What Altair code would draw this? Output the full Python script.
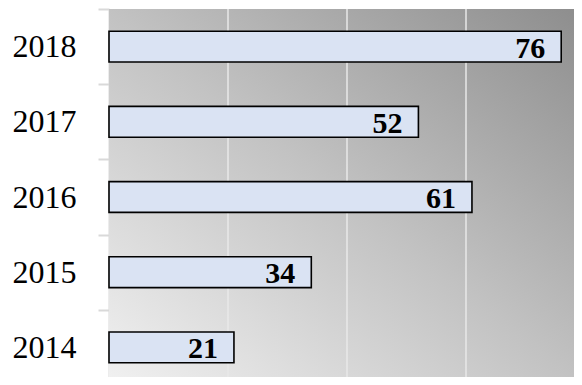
import altair as alt
import pandas as pd

years = ["2014", "2015", "2016", "2017", "2018"]
values = [21, 34, 61, 52, 76]
grid_values = [20, 40, 60]

df = pd.DataFrame({"year": years, "value": values})
grid_df = pd.DataFrame({"g": grid_values})

W, H = 465, 368
order = list(reversed(years))

grad = alt.LinearGradient(
    gradient="linear",
    x1=0, y1=1, x2=1, y2=0,
    stops=[
        alt.GradientStop(color="#f0f0f0", offset=0),
        alt.GradientStop(color="#c2c2c2", offset=0.5),
        alt.GradientStop(color="#8e8e8e", offset=1),
    ],
)

xscale = alt.Scale(domain=[0, 78.15], nice=False, zero=True)

y_enc = alt.Y(
    "year:N",
    sort=order,
    title=None,
    scale=alt.Scale(paddingInner=0, paddingOuter=0, range=[0, 376]),
    axis=alt.Axis(
        labelFont="Liberation Serif",
        labelFontSize=32,
        labelColor="#000000",
        labelPadding=22,
        tickBand="extent",
        tickSize=11,
        tickColor="#d9d9d9",
        tickWidth=2,
        domainColor="#d9d9d9",
        domainWidth=2,
        grid=False,
    ),
)

x_enc = alt.X("value:Q", title=None, scale=xscale, axis=None)

background = alt.Chart(alt.Data(values=[{"k": 1}])).mark_rect(color=grad).encode(
    x=alt.value(0), x2=alt.value(W), y=alt.value(0), y2=alt.value(H)
)

grid = alt.Chart(grid_df).mark_rule(color="#e8e8e8", strokeWidth=1.5).encode(
    x=alt.X("g:Q", scale=xscale, axis=None)
)

bars = alt.Chart(df).mark_bar(
    fill="#dae3f3", stroke="#000000", strokeWidth=1.6,
    height=alt.RelativeBandSize(band=0.41),
).encode(x=x_enc, y=y_enc)

labels = alt.Chart(df).mark_text(
    align="right", baseline="middle", dx=-16, dy=2,
    font="Liberation Serif", fontSize=30, fontWeight="bold", color="#000000",
).encode(x=x_enc, y=alt.Y("year:N", sort=order), text="value:Q")

chart = alt.layer(background, grid, bars, labels).properties(
    width=W, height=H,
    autosize=alt.AutoSizeParams(type="none"),
    padding={"left": 101, "top": 1, "right": 0, "bottom": 0},
).configure_view(stroke=None)

chart.save("out.html", embed_options={"renderer": "svg", "actions": False})
